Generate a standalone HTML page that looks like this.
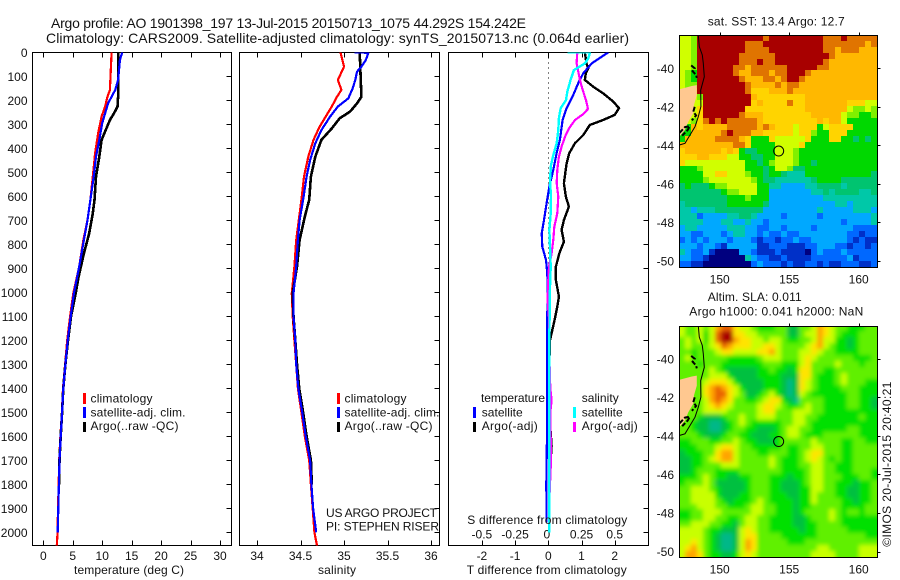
<!DOCTYPE html>
<html lang="en">
<head>
<meta charset="utf-8">
<title>Argo profile</title>
<style>
html,body{margin:0;padding:0;background:#fff;}
svg{display:block;font-family:"Liberation Sans",sans-serif;font-size:12px;fill:#000;}
text{fill:#111;}
.t14{font-size:14px;}
</style>
</head>
<body>
<svg id="chart" xmlns="http://www.w3.org/2000/svg" width="900" height="580" viewBox="0 0 900 580">
  <defs>
    <clipPath id="clip-map1"><rect x="679.5" y="35.5" width="198" height="232"/></clipPath>
    <clipPath id="clip-map2"><rect x="679.5" y="326.5" width="198" height="231"/></clipPath>
    <clipPath id="clip-p1"><rect x="32.5" y="52.5" width="199" height="493"/></clipPath>
    <clipPath id="clip-p2"><rect x="239.5" y="52.5" width="200" height="493"/></clipPath>
    <clipPath id="clip-p3"><rect x="448.5" y="52.5" width="200" height="493"/></clipPath>
    <filter id="smooth" x="-5%" y="-5%" width="110%" height="110%"><feGaussianBlur stdDeviation="2.2"/></filter>
  </defs>
  <text class="t14" x="51" y="28" textLength="475" lengthAdjust="spacing">Argo profile: AO 1901398_197 13-Jul-2015 20150713_1075 44.292S 154.242E</text>
  <text class="t14" x="46" y="43" textLength="583" lengthAdjust="spacing">Climatology: CARS2009. Satellite-adjusted climatology: synTS_20150713.nc (0.064d earlier)</text>

  <g id="panels"></g>

  <text x="74" y="574" textLength="110" lengthAdjust="spacing">temperature (deg C)</text>
  <text x="318" y="574" textLength="38" lengthAdjust="spacing">salinity</text>
  <text x="466.7" y="574" textLength="160" lengthAdjust="spacing">T difference from climatology</text>
  <text x="467.3" y="524" textLength="160" lengthAdjust="spacing">S difference from climatology</text>

  <g>
    <rect x="83" y="393" width="3" height="11" fill="#f00"/>
    <rect x="83" y="407" width="3" height="11" fill="#00f"/>
    <rect x="83" y="422" width="3" height="10" fill="#000"/>
    <text x="90.5" y="402.5" textLength="62" lengthAdjust="spacing">climatology</text>
    <text x="90.5" y="416.5" textLength="95" lengthAdjust="spacing">satellite-adj. clim.</text>
    <text x="90.5" y="430" textLength="88" lengthAdjust="spacing">Argo(..raw -QC)</text>
  </g>
  <g>
    <rect x="337" y="393" width="3" height="11" fill="#f00"/>
    <rect x="337" y="407" width="3" height="11" fill="#00f"/>
    <rect x="337" y="422" width="3" height="10" fill="#000"/>
    <text x="344.5" y="402.5" textLength="62" lengthAdjust="spacing">climatology</text>
    <text x="344.5" y="416.5" textLength="95" lengthAdjust="spacing">satellite-adj. clim.</text>
    <text x="344.5" y="430" textLength="88" lengthAdjust="spacing">Argo(..raw -QC)</text>
    <text x="326" y="517" textLength="111" lengthAdjust="spacing">US ARGO PROJECT</text>
    <text x="326" y="530.7" textLength="113" lengthAdjust="spacing">PI: STEPHEN RISER</text>
  </g>
  <g>
    <text x="481" y="402" textLength="64" lengthAdjust="spacing">temperature</text>
    <text x="581.7" y="402" textLength="37" lengthAdjust="spacing">salinity</text>
    <rect x="473" y="407" width="3" height="11" fill="#00f"/>
    <rect x="473" y="422" width="3" height="10" fill="#000"/>
    <rect x="573" y="407" width="3" height="11" fill="#0ff"/>
    <rect x="573" y="422" width="3" height="10" fill="#f0f"/>
    <text x="481.7" y="416.5" textLength="41" lengthAdjust="spacing">satellite</text>
    <text x="481.7" y="430" textLength="56" lengthAdjust="spacing">Argo(-adj)</text>
    <text x="581.7" y="416.5" textLength="41" lengthAdjust="spacing">satellite</text>
    <text x="581.7" y="430" textLength="56" lengthAdjust="spacing">Argo(-adj)</text>
  </g>

  <g id="maps"></g>

  <text x="707.7" y="25.3" textLength="137" lengthAdjust="spacing">sat. SST: 13.4  Argo: 12.7</text>
  <text x="707.7" y="301" textLength="94" lengthAdjust="spacing">Altim. SLA: 0.011</text>
  <text x="689.3" y="315.3" textLength="174" lengthAdjust="spacing">Argo h1000: 0.041 h2000: NaN</text>
  <text transform="translate(891,546.7) rotate(-90)" textLength="165" lengthAdjust="spacing">©IMOS 20-Jul-2015 20:40:21</text>
</svg>
<script>
// ---- tick labels ----
var depthTicks = [0,100,200,300,400,500,600,700,800,900,1000,1100,1200,1300,1400,1500,1600,1700,1800,1900,2000];
var tempTicks = [0,5,10,15,20,25,30];
var salTicks = [34,34.5,35,35.5,36];
var salTickLabels = ['34','34.5','35','35.5','36'];
var tDiffTicks = [-2,-1,0,1,2];
var sDiffTicks = [-0.5,-0.25,0,0.25,0.5];
var sDiffTickLabels = ['-0.5','-0.25','0','0.25','0.5'];
var lonTicks = [150,155,160];
var latTicks = [-40,-42,-44,-46,-48,-50];

// ---- temperature profiles ----
var climTempDepth = [0,157,185,226,268,338,421,518,615,699,782,893,1004,1100,1200,1300,1400,1500,1600,1700,1800,1900,2000,2055];
var climTemp = [11.6,11.3,10.9,10.5,9.9,9.3,8.8,8.4,8.0,7.5,6.8,6.1,5.1,4.55,4.05,3.7,3.35,3.15,2.9,2.7,2.62,2.5,2.42,2.3];
var satTempDepth = [0,32,115,157,185,213,254,296,365,435,518,615,699,782,893,1004,1100,1200,1300,1400,1500,1600,1700,1800,1900,2000];
var satTemp = [13.4,13.0,12.7,12.2,11.6,11,10.5,10,9.5,8.95,8.55,8.0,7.5,6.9,6.1,5.2,4.65,4.15,3.75,3.4,3.2,2.95,2.75,2.65,2.55,2.45];
var argoTempDepth = [0,185,226,254,282,324,365,435,518,615,671,754,838,935,1004,1100,1200,1300,1400,1500,1600,1700,1800];
var argoTemp = [12.7,12.7,12.6,12.0,11.3,10.6,9.9,9.5,8.95,8.7,8.4,7.8,6.9,6.0,5.5,4.7,4.2,3.75,3.4,3.2,2.95,2.75,2.68];

// ---- salinity profiles ----
var climSalDepth = [0,60,115,157,185,226,268,310,365,435,518,615,699,782,893,1004,1100,1200,1300,1400,1500,1600,1700,1800,1900,2000,2055];
var climSal = [34.96,35.0,34.93,34.97,34.92,34.86,34.79,34.72,34.65,34.59,34.54,34.51,34.48,34.45,34.43,34.40,34.41,34.43,34.45,34.47,34.51,34.55,34.6,34.62,34.64,34.66,34.69];
var satSalDepth = [0,2,32,60,81,115,150,192,226,268,324,379,449,518,615,699,782,893,1004,1100,1200,1300,1400,1500,1600,1700,1800,1900,2000];
var satSal = [35.12,35.28,35.25,35.2,35.15,35.13,35.1,35.05,34.93,34.84,34.74,34.67,34.61,34.57,34.53,34.49,34.47,34.45,34.42,34.42,34.44,34.45,34.475,34.52,34.56,34.61,34.625,34.645,34.68];
var argoSalDepth = [0,88,185,213,247,275,317,365,435,518,615,685,782,893,1004,1100,1200,1300,1400,1500,1600,1700,1800];
var argoSal = [35.18,35.19,35.2,35.15,35.07,34.95,34.86,34.74,34.67,34.62,34.6,34.55,34.49,34.46,34.41,34.42,34.44,34.46,34.485,34.53,34.57,34.62,34.63];

// ---- difference profiles ----
var tSatDiffDepth = [0,46,88,129,185,240,282,365,421,490,560,629,699,754,810,865,921,990,1100,1500,1800,1960];
var tSatDiff = [1.81,1.31,1.05,0.90,0.73,0.53,0.43,0.35,0.25,0.15,0.03,-0.05,-0.13,-0.2,-0.18,-0.07,-0.03,-0.02,-0.03,-0.03,-0.06,-0.05];
var tArgoDiffDepth = [0,46,67,88,115,143,171,206,233,261,282,303,345,379,421,463,546,602,643,699,740,789,838,893,949,1018,1060,1109,1200,1300,1400,1640,1800];
var tArgoDiff = [1.1,1.15,1.2,1.13,1.1,1.35,1.65,1.96,2.13,2.0,1.65,1.25,1.05,0.8,0.63,0.55,0.47,0.53,0.62,0.47,0.4,0.47,0.33,0.23,0.23,0.32,0.27,0.2,0.05,0.03,-0.02,0.1,0.02];
var sArgoDiffDepth = [0,46,81,115,157,199,236,257,282,317,352,393,435,490,546,602,671,727,782,838,893,949,1032,1109,1300,1400,1450,1500,1700,1900];
var sArgoDiff = [0.218,0.213,0.226,0.238,0.259,0.284,0.299,0.264,0.201,0.156,0.126,0.1,0.08,0.068,0.063,0.075,0.068,0.045,0.038,0.025,0.005,0,-0.005,0.005,0.01,0.015,0.025,0.015,0.02,0.005];
var sSatDiffDepth = [0,1,25,46,74,115,164,199,233,275,324,379,428,470,532,602,671,740,810,893,977,1200,1600,2000];
var sSatDiff = [0.146,0.314,0.301,0.276,0.193,0.168,0.143,0.133,0.093,0.08,0.075,0.063,0.038,0.02,0.0125,0.02,0.018,0.008,0.0125,0.018,0.0125,0.0075,0.0075,0.0075];

// ---- map cells (colour-scale level 0..c per cell, rows north to south) ----
var sstLevels = [
"887cc ccccc ccccb ccccc ccccb bbcbb bbb",
"887cc ccccc cbbbc ccccc ccccb bbbbb bab",
"887cc ccccc cbbbb ccccc ccccb babbb aaa",
"887cc ccccc bbbbb bcccc ccccc baaaa aaa",
"887cc ccccc bbbcb bcccc ccccb aaaaa aaa",
"887cc ccccb babbb bbbcc cccbb aaaaa aaa",
"876cc ccccb aabbb abbcc cbaaa aaaaa aaa",
"876cc ccccc baaab babcc baaaa aaaaa aaa",
"877cc ccccc cbaaa ababb aaaaa aaaaa aaa",
"888cc ccccc cb999 aaaba aaaaa aaaaa aaa",
"8887c ccccc cca99 99999 9aaaa aaaaa aaa",
"8888c ccccc cc9a9 999b9 9aaaa aaa99 988",
"8889c ccccc c9999 99999 9aaaa aaa87 787",
"8889c ccccc baaa9 99999 99aaa aa877 667",
"8879b cbcbb bbba9 99999 999a9 aa866 666",
"86a9a aaabb bbbab a9998 99968 99996 666",
"66aaa aabcb bbaa9 99998 99766 99966 666",
"6aaaa abbbb a9666 98888 89666 99665 656",
"aaaaa aaaab b9666 68888 96666 66666 666",
"9aaaa aa9a9 65566 68887 66666 66666 666",
"999aa 99988 66556 68887 66666 66666 666",
"98888 88888 86656 78887 66566 66666 666",
"66678 88888 86665 68875 56666 66666 666",
"66668 89988 87665 66544 46666 66666 665",
"66667 88888 88765 54444 44566 66555 555",
"56555 67788 88866 44333 34455 55455 555",
"55555 55677 88866 33333 33445 45555 445",
"55555 55566 67666 33333 33334 44444 444",
"45555 55566 66665 33333 33333 34434 444",
"44344 45555 55553 33333 33343 33334 443",
"44423 33344 55433 33233 33323 33333 334",
"44443 33443 34332 33333 33333 33233 334",
"34433 33344 43322 33233 33233 33332 222",
"33223 33234 43323 22322 33333 33322 122",
"23232 33323 33212 21223 22333 33321 211",
"33323 32133 33311 22211 12233 32212 212",
"43223 10000 33211 12111 10232 22322 222",
"33221 00000 04322 11211 11222 22231 222",
"22110 00000 00232 22121 12212 11222 112"
];
var slaLevels = [
"87787 8abb9 88766 67755 778a9 87766 677",
"87786 8bcc9 98877 77755 788a9 87666 777",
"78786 8bcca 99887 88766 778a8 86656 777",
"78777 89ba9 99889 98777 789a8 76656 777",
"77677 78998 88899 a8777 88987 76666 777",
"78677 77766 66678 88777 89877 77776 667",
"77767 77666 66667 77666 89777 78777 677",
"77777 87655 55566 76656 99776 67777 777",
"77777 88865 55566 66555 99766 67877 777",
"77778 99986 55556 66545 98766 67877 766",
"77779 aba98 65556 66545 98766 66777 666",
"77779 abb98 75567 86545 87666 66677 666",
"77778 aba97 76678 99654 77776 66677 665",
"77778 9a987 77789 98766 78776 66677 665",
"77778 88877 77789 97778 88776 66666 666",
"77765 55677 87788 87778 87766 66666 766",
"77655 44567 87666 66778 87666 66666 666",
"77655 44567 76655 56788 77666 66677 666",
"77765 55677 66555 66788 76667 77777 666",
"66777 66778 76655 56777 77877 77667 766",
"66677 78998 77666 66766 77887 77667 777",
"56667 79aa8 77766 77766 78997 77667 777",
"55667 89aa8 77777 87666 78987 67667 777",
"55667 77888 77777 87666 77887 76667 777",
"55677 76666 77777 77666 67887 76667 776",
"66678 76655 66777 66656 67887 77666 776",
"67778 75555 56777 66555 67887 76665 667",
"77888 76555 56777 66555 66887 76655 667",
"77888 86555 66777 66655 66877 76655 667",
"77888 87656 66787 66665 66877 77665 667",
"77788 87766 67887 76665 66777 77666 677",
"66778 88777 77887 76665 67777 87677 677",
"66778 87766 78877 66665 56777 87666 666",
"77888 77665 78877 66665 56677 77666 666",
"88887 66555 89877 66666 56677 77766 666",
"88887 65445 89977 77666 66677 77777 766",
"88987 65445 8a977 77766 67777 77777 777",
"89a87 65445 8a977 77777 77788 77777 888",
"8aa97 66556 89877 77777 77888 87777 888"
];

// ---- geography (lon, lat) ----
var coastLon = [148.46,148.53,148.75,148.82,148.89,148.63,148.65,148.46,148.22,147.86,147.5,147.09];
var coastLat = [-38.29,-38.88,-39.31,-39.74,-40.44,-41.13,-41.99,-42.51,-43.03,-43.46,-43.89,-43.98];
var landLon = [147.09,147.99,148.35,148.35,148.15,148.1,147.74,147.5,147.09];
var landLat = [-41.09,-40.92,-40.87,-41.39,-41.9,-42.33,-42.77,-43.2,-43.55];
var floatLon = 154.242;
var floatLat = -44.292;

// ---- axis functions ----
function depthY(d){ return 52.3 + d*0.24; }
function tempX(t){ return 43.3 + t*5.89; }
function salX(s){ return 257 + (s-34)*87; }
function tDiffX(t){ return 548.3 + t*33.2; }
function sDiffX(s){ return 548.3 + s*132.8; }
function lonX(lon){ return 719.7 + (lon-150)*13.9; }
function latY1(lat){ return 68.3 + (-40-lat)*19.27; }
function latY2(lat){ return 358.8 + (-40-lat)*19.27; }

var NS = 'http://www.w3.org/2000/svg';
function svgEl(tag, parent, attrs){
  var el = document.createElementNS(NS, tag);
  for (var k in attrs) { el.setAttribute(k, attrs[k]); }
  parent.appendChild(el);
  return el;
}
function addLabel(parent, name, x, y, anchor, str){
  var el = svgEl('text', parent, {x:x, y:y, 'text-anchor':anchor});
  
  
  el.textContent = str;
  return el;
}
function addTick(parent, name, x1, y1, x2, y2){
  var el = svgEl('line', parent, {x1:x1, y1:y1, x2:x2, y2:y2, stroke:'#000', 'stroke-width':1, 'shape-rendering':'crispEdges'});
  
  
}
function addProfile(parent, name, clipId, depths, values, xFn, color, width){
  var pts = [];
  for (var i = 0; i < depths.length; i++) {
    pts.push(xFn(values[i]).toFixed(1) + ',' + depthY(depths[i]).toFixed(1));
  }
  var el = svgEl('polyline', parent, {points:pts.join(' '), fill:'none', stroke:color, 'stroke-width':width, 'clip-path':'url(#'+clipId+')', 'shape-rendering':'crispEdges'});
  
  
}
function addPanel(parent, name, left, right){
  var top = 52.5, bottom = 545.5;
  var g = svgEl('g', parent, {});
  
  
  var r = svgEl('rect', g, {x:left, y:top, width:right-left, height:bottom-top, fill:'none', stroke:'#000', 'stroke-width':1, 'shape-rendering':'crispEdges'});
  
  
  depthTicks.forEach(function(d){
    var y = Math.round(depthY(d)) + 0.5;
    addTick(g, 'depth-tick', right-5, y, right, y);
  });
  return g;
}
function addXTicks(g, values, labels, xFn, labelY, labelDx){
  values.forEach(function(v, i){
    var x = Math.round(xFn(v)) + 0.5;
    addTick(g, 'x-tick-top', x, 52.5, x, 57.5);
    addTick(g, 'x-tick-bottom', x, 540.5, x, 545.5);
    if (labels) { addLabel(g, 'x-tick-label', xFn(v) + (labelDx||0), labelY, 'middle', labels[i]); }
  });
}

var panels = document.getElementById('panels');

// Panel 1: temperature
var p1 = addPanel(panels, 'temperature-panel', 32.5, 231.5);
addXTicks(p1, tempTicks, tempTicks.map(String), tempX, 560);
depthTicks.forEach(function(d){
  addLabel(p1, 'depth-tick-label', 27.5, depthY(d)+4.5, 'end', String(d));
});
addProfile(p1, 'climatology-temperature-line', 'clip-p1', climTempDepth, climTemp, tempX, '#f00', 2.2);
addProfile(p1, 'argo-temperature-line', 'clip-p1', argoTempDepth, argoTemp, tempX, '#000', 2.6);
addProfile(p1, 'satellite-temperature-line', 'clip-p1', satTempDepth, satTemp, tempX, '#00f', 2.2);

// Panel 2: salinity
var p2 = addPanel(panels, 'salinity-panel', 239.5, 439.5);
addXTicks(p2, salTicks, salTickLabels, salX, 560);
addProfile(p2, 'climatology-salinity-line', 'clip-p2', climSalDepth, climSal, salX, '#f00', 2.2);
addProfile(p2, 'argo-salinity-line', 'clip-p2', argoSalDepth, argoSal, salX, '#000', 2.6);
addProfile(p2, 'satellite-salinity-line', 'clip-p2', satSalDepth, satSal, salX, '#00f', 2.2);

// Panel 3: differences
var p3 = addPanel(panels, 'difference-panel', 448.5, 648.5);
addXTicks(p3, tDiffTicks, tDiffTicks.map(String), tDiffX, 560);
sDiffTicks.forEach(function(v, i){
  addLabel(p3, 's-diff-tick-label', sDiffX(v) - (v===0?1.5:0), 538.7, 'middle', sDiffTickLabels[i]);
});
var zeroLine = svgEl('line', p3, {x1:548.5, y1:52.5, x2:548.5, y2:320, stroke:'#000', 'stroke-width':1, 'stroke-dasharray':'1 4', 'shape-rendering':'crispEdges'});


addProfile(p3, 't-argo-difference-line', 'clip-p3', tArgoDiffDepth, tArgoDiff, tDiffX, '#000', 2.4);
addProfile(p3, 't-satellite-difference-line', 'clip-p3', tSatDiffDepth, tSatDiff, tDiffX, '#00f', 2.2);
addProfile(p3, 's-argo-difference-line', 'clip-p3', sArgoDiffDepth, sArgoDiff, sDiffX, '#f0f', 2.2);
addProfile(p3, 's-satellite-difference-line', 'clip-p3', sSatDiffDepth, sSatDiff, sDiffX, '#0ff', 2.4);

// Maps
var sstColor = {'0':'#00007f','1':'#0030c8','2':'#0068ff','3':'#00a8ff','4':'#00c8a8','5':'#00c470','6':'#00d800','7':'#80f000','8':'#d0ff00','9':'#ffd400','a':'#ffb800','b':'#e07400','c':'#a80000'};
var slaColor = {'4':'#00b888','5':'#00c040','6':'#00e000','7':'#60f000','8':'#c8ff00','9':'#ffe400','a':'#ffa400','b':'#e86000','c':'#a80000'};
var cellLonStep = 6/13.9;
var cellLatStep = 5.94/19.27;
var mapLon0 = 147.09;
var mapLat0 = -38.29;

function drawMap(name, cellName, levels, palette, latFn, clipId, top, blur){
  var maps = document.getElementById('maps');
  var g = svgEl('g', maps, {});
  
  
  var clip = svgEl('g', g, {'clip-path':'url(#'+clipId+')'});
  
  
  var cells = svgEl('g', clip, blur ? {filter:'url(#smooth)'} : {});
  
  
  levels.forEach(function(rowStr, r){
    var row = rowStr.replace(/ /g, '');
    for (var c = 0; c < row.length; c++) {
      var lon = mapLon0 + c*cellLonStep;
      var lat = mapLat0 - r*cellLatStep;
      var x = Math.floor(lonX(lon));
      var y = Math.floor(latFn(lat));
      var x2 = Math.floor(lonX(lon+cellLonStep));
      var y2 = Math.floor(latFn(lat-cellLatStep));
      var rect = svgEl('rect', cells, {x:x, y:y, width:x2-x, height:y2-y, fill:palette[row.charAt(c)], 'shape-rendering':'crispEdges'});
      
      
      if (blur && (c===0 || c===row.length-1 || r===0 || r===levels.length-1)) {
        var ex = svgEl('rect', cells, {x:x-(c===0?12:0), y:y-(r===0?12:0), width:x2-x+(c===0||c===row.length-1?12:0), height:y2-y+(r===0||r===levels.length-1?12:0), fill:palette[row.charAt(c)], 'shape-rendering':'crispEdges'});
        
        
      }
    }
  });
  // land
  var landPts = landLon.map(function(lon,i){ return lonX(lon).toFixed(1)+','+latFn(landLat[i]).toFixed(1); }).join(' ');
  var land = svgEl('polygon', clip, {points:landPts, fill:'#ffc890', stroke:'none'});
  
  
  // rugged east coast speckle
  [[[148.2,-42.0],[148.1,-42.25],[148.3,-42.45],[148.0,-42.7]],
   [[147.1,-43.35],[147.5,-43.05],[147.85,-43.0],[147.7,-43.2],[147.3,-43.5]],
   [[147.95,-39.85],[148.2,-40.0],[148.05,-40.15],[148.3,-40.35],[148.35,-40.5]]
  ].forEach(function(seg){
    var pts = seg.map(function(p){ return lonX(p[0]).toFixed(1)+','+latFn(p[1]).toFixed(1); }).join(' ');
    var s = svgEl('polyline', clip, {points:pts, fill:'none', stroke:'#000', 'stroke-width':2, 'stroke-dasharray':'5 2'});
    
    
  });
  // coast
  var coastPts = coastLon.map(function(lon,i){ return lonX(lon).toFixed(1)+','+latFn(coastLat[i]).toFixed(1); }).join(' ');
  var coast = svgEl('polyline', clip, {points:coastPts, fill:'none', stroke:'#000', 'stroke-width':1});
  
  
  // float position
  var marker = svgEl('circle', clip, {cx:lonX(floatLon), cy:latFn(floatLat), r:5, fill:'none', stroke:'#000', 'stroke-width':1});
  
  
  // frame
  var hgt = clipId==='clip-map1'?232:231;
  var frame = svgEl('rect', g, {x:679.5, y:top, width:198, height:hgt, fill:'none', stroke:'#000', 'stroke-width':1, 'shape-rendering':'crispEdges'});
  
  
  // ticks
  lonTicks.forEach(function(lon){
    var x = Math.round(lonX(lon)) + 0.5;
    addTick(g, 'lon-tick', x, top-3, x, top);
    addLabel(g, 'lon-tick-label', lonX(lon), top+hgt+16, 'middle', String(lon));
  });
  latTicks.forEach(function(lat){
    var y = Math.round(latFn(lat)) + 0.5;
    addTick(g, 'lat-tick', 877.5, y, 880.5, y);
    addLabel(g, 'lat-tick-label', 674, latFn(lat)+4.5, 'end', String(lat));
  });
}
drawMap('sst-map', 'sst-cell', sstLevels, sstColor, latY1, 'clip-map1', 35.5, false);
drawMap('sla-map', 'sla-cell', slaLevels, slaColor, latY2, 'clip-map2', 326.5, true);
</script>
</body>
</html>
